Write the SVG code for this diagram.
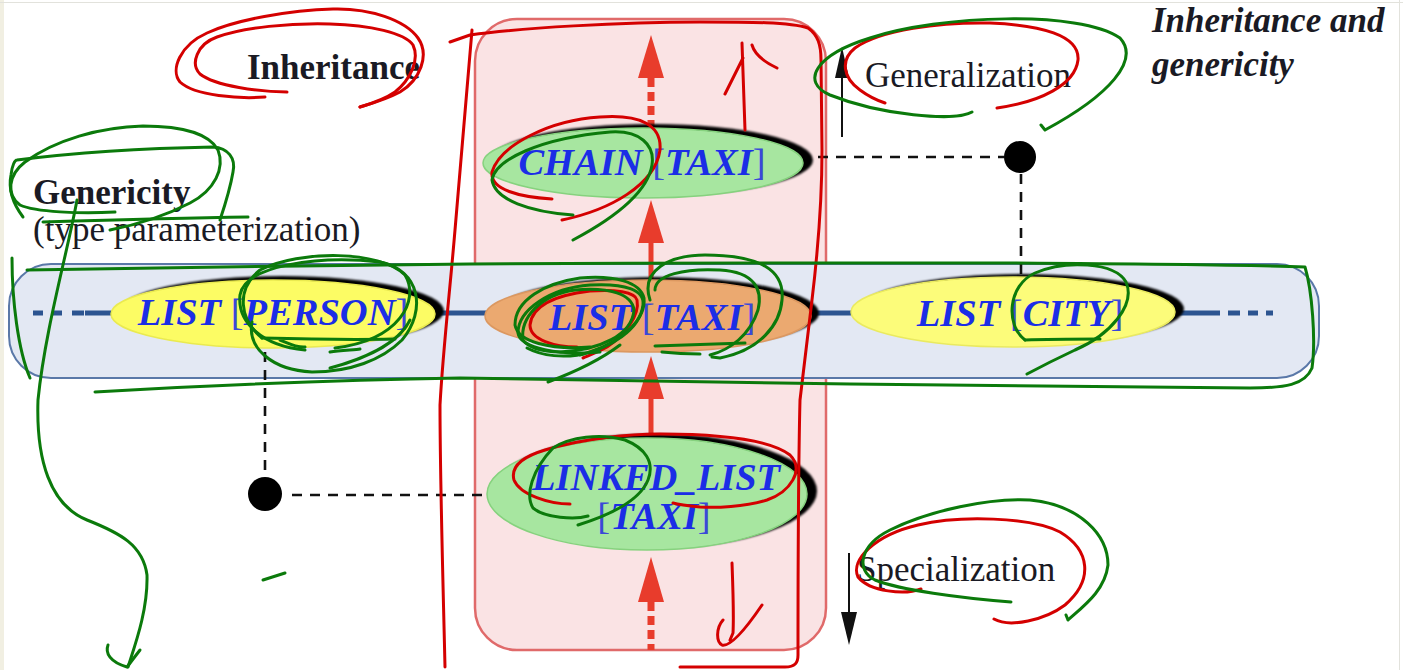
<svg xmlns="http://www.w3.org/2000/svg" width="1403" height="670" viewBox="0 0 1403 670">
  <defs>
    <style>
      .lbl { font-family: "Liberation Serif", "Times New Roman", serif; font-size: 35px; fill: #1a1a24; }
      .bold { font-weight: bold; }
      .cls { font-family: "Liberation Serif", "Times New Roman", serif; font-size: 38.5px; font-weight: bold; font-style: italic; fill: #1b2de6; }
      .br { font-weight: normal; font-style: normal; fill: #3a48d8; }
      .shadow { fill: #000; filter: url(#soft); }
      .dash { stroke: #111; stroke-width: 2.6; stroke-dasharray: 10 8; fill: none; }
      .red { stroke: #d40000; stroke-width: 3; fill: none; stroke-linecap: round; stroke-linejoin: round; }
      .green { stroke: #0b7a0b; stroke-width: 3; fill: none; stroke-linecap: round; stroke-linejoin: round; }
      .inh { fill: #e83c2c; }
    </style>
    <filter id="soft" x="-10%" y="-20%" width="120%" height="140%">
      <feGaussianBlur stdDeviation="1.2"/>
    </filter>
  </defs>

  <!-- page -->
  <rect x="0" y="0" width="1403" height="670" fill="#ffffff"/>
  <rect x="0" y="0" width="4" height="670" fill="#f1efe2"/>
  <line x1="0" y1="2.5" x2="1403" y2="2.5" stroke="#e2e2dc" stroke-width="1"/>
  <line x1="1399.5" y1="0" x2="1399.5" y2="670" stroke="#e2e2dc" stroke-width="1"/>

  <!-- inheritance column and genericity band -->
  <rect id="inheritance-column" x="475" y="19" width="351" height="631" rx="42" fill="#fae3e4" stroke="#e06a6a" stroke-width="2.5"/>
  <rect id="genericity-band" x="9" y="264" width="1310" height="114" rx="42" fill="#e3e8f3" stroke="#5a78a8" stroke-width="2"/>

  <!-- connectors -->
  <g id="connectors">
    <!-- genericity axis -->
    <line x1="85" y1="313" x2="1220" y2="313" stroke="#2c5490" stroke-width="5"/>
    <path d="M33 313 H43 M52 313 H62 M72 313 H84" stroke="#2c5490" stroke-width="5"/>
    <path d="M1228 313 H1240 M1248 313 H1258 M1266 313 H1273" stroke="#2c5490" stroke-width="5"/>

    <!-- inheritance arrows -->
    <line x1="651" y1="78" x2="651" y2="126" stroke="#e83c2c" stroke-width="7" stroke-dasharray="9 5"/>
    <polygon class="inh" points="651,35 638,78 664,78"/>
    <line x1="651" y1="240" x2="651" y2="282" stroke="#e83c2c" stroke-width="5"/>
    <polygon class="inh" points="651,200 638,243 664,243"/>
    <line x1="651" y1="396" x2="651" y2="434" stroke="#e83c2c" stroke-width="5"/>
    <polygon class="inh" points="651,356 638,399 664,399"/>
    <line x1="651" y1="602" x2="651" y2="650" stroke="#e83c2c" stroke-width="7" stroke-dasharray="9 5"/>
    <polygon class="inh" points="651,557 638,602 664,602"/>

    <!-- generalization / specialization arrows -->
    <line x1="842" y1="137" x2="842" y2="70" stroke="#111" stroke-width="2"/>
    <polygon points="842,47 835,78 849,78" fill="#111"/>
    <line x1="849" y1="553" x2="849" y2="620" stroke="#111" stroke-width="2"/>
    <polygon points="849,645 841,612 857,612" fill="#111"/>

    <!-- derivation links -->
    <line class="dash" x1="818" y1="157" x2="1004" y2="157"/>
    <line class="dash" x1="1021" y1="174" x2="1021" y2="276"/>
    <line class="dash" x1="265" y1="352" x2="265" y2="477"/>
    <line class="dash" x1="292" y1="495" x2="486" y2="495"/>
    <circle cx="1020" cy="157" r="16" fill="#000"/>
    <circle cx="265" cy="494" r="17" fill="#000"/>
  </g>

  <!-- class nodes -->
  <g id="chain-taxi">
    <ellipse class="shadow" cx="652" cy="160" rx="161" ry="36"/>
    <ellipse cx="643" cy="163" rx="160" ry="35" fill="#a7e6a0" stroke="#86d27e" stroke-width="1.5"/>
    <text class="cls" x="642" y="175" text-anchor="middle">CHAIN<tspan class="br"> [</tspan>TAXI<tspan class="br">]</tspan></text>
  </g>

  <g id="list-person">
    <ellipse class="shadow" cx="282" cy="311" rx="162" ry="35"/>
    <ellipse cx="273" cy="314" rx="162" ry="34" fill="#fcfc64" stroke="#eaea50" stroke-width="1.5"/>
    <text class="cls" x="273" y="325" text-anchor="middle">LIST<tspan class="br"> [</tspan>PERSON<tspan class="br">]</tspan></text>
  </g>

  <g id="list-taxi">
    <ellipse class="shadow" cx="657" cy="313" rx="162" ry="36"/>
    <ellipse cx="648" cy="316" rx="163" ry="36" fill="#eba970" stroke="#dc9860" stroke-width="1.5"/>
    <text class="cls" x="652" y="330" text-anchor="middle">LIST<tspan class="br"> [</tspan>TAXI<tspan class="br">]</tspan></text>
  </g>

  <g id="list-city">
    <ellipse class="shadow" cx="1022" cy="309" rx="162" ry="35"/>
    <ellipse cx="1013" cy="312" rx="162" ry="35" fill="#fcfc7a" stroke="#eaea60" stroke-width="1.5"/>
    <text class="cls" x="1020" y="326" text-anchor="middle">LIST<tspan class="br"> [</tspan>CITY<tspan class="br">]</tspan></text>
  </g>

  <g id="linked-list-taxi">
    <ellipse class="shadow" cx="656" cy="491" rx="161" ry="57"/>
    <ellipse cx="647" cy="494" rx="160" ry="56" fill="#a7e6a0" stroke="#86d27e" stroke-width="1.5"/>
    <text class="cls" x="656" y="490" text-anchor="middle">LINKED_LIST</text>
    <text class="cls" x="654" y="529" text-anchor="middle"><tspan class="br">[</tspan>TAXI<tspan class="br">]</tspan></text>
  </g>

  <!-- labels -->
  <g id="labels">
    <text class="lbl bold" x="247" y="79">Inheritance</text>
    <text class="lbl bold" x="33" y="204">Genericity</text>
    <text class="lbl" x="33" y="241">(type parameterization)</text>
    <text class="lbl" x="865" y="87">Generalization</text>
    <text class="lbl" x="857" y="581">Specialization</text>
    <text class="lbl bold" x="1152" y="32" font-style="italic">Inheritance and</text>
    <text class="lbl bold" x="1152" y="76" font-style="italic">genericity</text>
  </g>

  <!-- red pen strokes -->
  <g id="red-ink">
    <path class="red" d="M265 97 C240 99 195 96 180 82 C170 70 180 45 207 33 C235 20 290 10 333 9 C370 8 405 20 418 38 C430 55 420 80 400 92 C385 100 370 104 360 107"/>
    <path class="red" d="M287 92 C260 92 215 86 200 74 C190 64 197 44 217 37 C245 27 290 23 330 24 C370 25 405 33 413 45 C420 60 410 80 395 92 C385 99 370 104 360 107"/>
    <path class="red" d="M450 42 L470 35 C520 28 620 22 700 22 C750 22 790 22 808 28 C818 35 821 45 821 60 L822 150 C822 200 818 250 812 300 L800 400 C798 480 798 580 798 655 C798 663 795 667 785 667 L680 667"/>
    <path class="red" d="M472 30 C468 80 462 150 455 230 C450 290 443 350 440 405 C440 480 443 580 445 667"/>
    <path class="red" d="M745 130 C744 100 743 70 742 43 M725 94 L743 58 M752 45 C754 52 760 60 777 68"/>
    <path class="red" d="M732 563 C733 590 734 615 733 633 L730 640 M723 620 C716 628 716 642 722 645 C730 647 745 630 762 605"/>
    <path class="red" d="M552 199 C520 197 490 190 492 172 C500 145 550 120 600 117 C640 114 662 125 660 150 C655 185 610 210 562 220"/>
    <path class="red" d="M577 347 C555 347 530 340 530 325 C532 305 557 295 590 291 C615 289 635 292 637 300 C640 315 625 335 607 347 C598 352 590 355 583 358"/>
    <path class="red" d="M570 504 C550 504 520 495 514 480 C510 465 525 456 545 450 C585 438 630 434 660 434 C720 434 770 440 790 455 C805 470 790 492 767 500 C745 507 715 508 700 507 C690 506 680 505 673 503"/>
    <path class="red" d="M997 108 C1040 102 1075 85 1078 60 C1080 35 1040 25 990 23 C940 22 880 30 855 48 C840 60 843 78 860 90 C868 96 876 100 885 103"/>
    <path class="red" d="M921 589 C905 595 870 592 858 577 C850 560 875 535 918 525 C960 515 1030 517 1060 532 C1090 550 1094 580 1065 605 C1045 620 1010 628 994 619"/>
  </g>

  <!-- green pen strokes -->
  <g id="green-ink">
    <path class="green" d="M23 217 C14 205 8 190 11 175 C12 165 15 160 17 160 C80 152 160 148 213 147 C228 148 236 158 233 172 C230 190 225 205 220 220"/>
    <path class="green" d="M115 212 C80 214 35 212 20 205 C6 195 8 175 25 162 C55 140 100 127 143 126 C185 126 210 135 218 150 C225 168 215 190 190 203 C165 216 135 225 110 230"/>
    <path class="green" d="M43 222 C110 220 180 218 248 217"/>
    <path class="green" d="M77 200 C68 250 45 330 38 400 C36 460 50 505 87 520 C120 533 143 545 147 575 C148 610 135 645 128 667"/>
    <path class="green" d="M108 645 C105 653 110 662 127 667 L140 650"/>
    <path class="green" d="M12 258 C12 300 18 350 30 378"/>
    <path class="green" d="M27 270 C180 268 320 265 470 264 C650 263 850 262 1000 263 C1150 264 1250 265 1305 267 C1312 290 1316 340 1312 368 C1305 385 1285 388 1250 388 C1100 387 950 385 850 384 C700 382 560 380 460 378 C330 380 200 386 95 392"/>
    <path class="green" d="M262 338 C240 320 235 290 260 270 C300 250 380 250 405 275 C420 300 400 340 335 348"/>
    <path class="green" d="M305 350 C262 346 237 322 240 295 C245 265 320 255 380 262 C420 270 427 310 402 340 C382 360 350 372 312 372 C272 370 247 348 252 322"/>
    <path class="green" d="M330 368 C360 360 398 345 410 320"/>
    <path class="green" d="M262 338 C300 339 350 340 395 339 M280 340 C290 344 298 348 305 347 M330 352 C340 350 355 350 360 349"/>
    <path class="green" d="M573 215 C530 212 495 200 492 180 C495 160 540 138 610 132 C640 130 655 145 652 165 C648 190 620 215 573 240"/>
    <path class="green" d="M590 347 C550 350 518 342 515 325 C515 300 545 283 580 278 C615 275 640 282 644 298 C646 318 625 340 590 352 C565 360 540 355 527 348"/>
    <path class="green" d="M600 352 C560 356 520 348 518 333 C518 310 550 288 590 285 C625 283 645 290 643 305 C640 330 610 348 580 355"/>
    <path class="green" d="M523 340 C520 318 540 295 575 290 C610 287 632 294 634 310 C632 335 600 350 560 352 C540 352 528 347 523 340"/>
    <path class="green" d="M620 345 C600 360 575 372 548 382"/>
    <path class="green" d="M650 300 C640 270 670 255 705 255 C760 255 785 270 782 300 C780 325 760 350 720 358 L712 357"/>
    <path class="green" d="M655 290 C655 275 685 268 720 270 C755 272 763 290 758 310 C750 335 730 350 710 355"/>
    <path class="green" d="M655 346 C690 345 720 344 745 343 M662 352 C680 354 690 354 700 354"/>
    <path class="green" d="M1025 340 C1005 325 1008 285 1035 273 C1065 260 1115 262 1126 282 C1136 305 1110 335 1075 350 C1058 358 1042 366 1027 374"/>
    <path class="green" d="M1025 340 C1050 339 1080 339 1100 339"/>
    <path class="green" d="M588 516 C575 520 545 518 533 508 C525 495 532 470 553 448 C570 437 600 433 625 440 C645 448 655 462 648 480 C640 500 610 515 578 525"/>
    <path class="green" d="M972 112 C955 122 880 115 830 95 C800 82 815 55 870 38 C940 15 1080 10 1120 38 C1140 60 1110 95 1045 130 M1045 130 L1041 125"/>
    <path class="green" d="M1011 602 C960 598 900 590 875 580 C855 570 860 545 890 530 C930 510 990 498 1030 500 C1080 505 1108 535 1108 565 C1105 590 1085 605 1068 620 M1068 620 L1066 615"/>
    <path class="green" d="M263 580 L285 573"/>
  </g>
</svg>
